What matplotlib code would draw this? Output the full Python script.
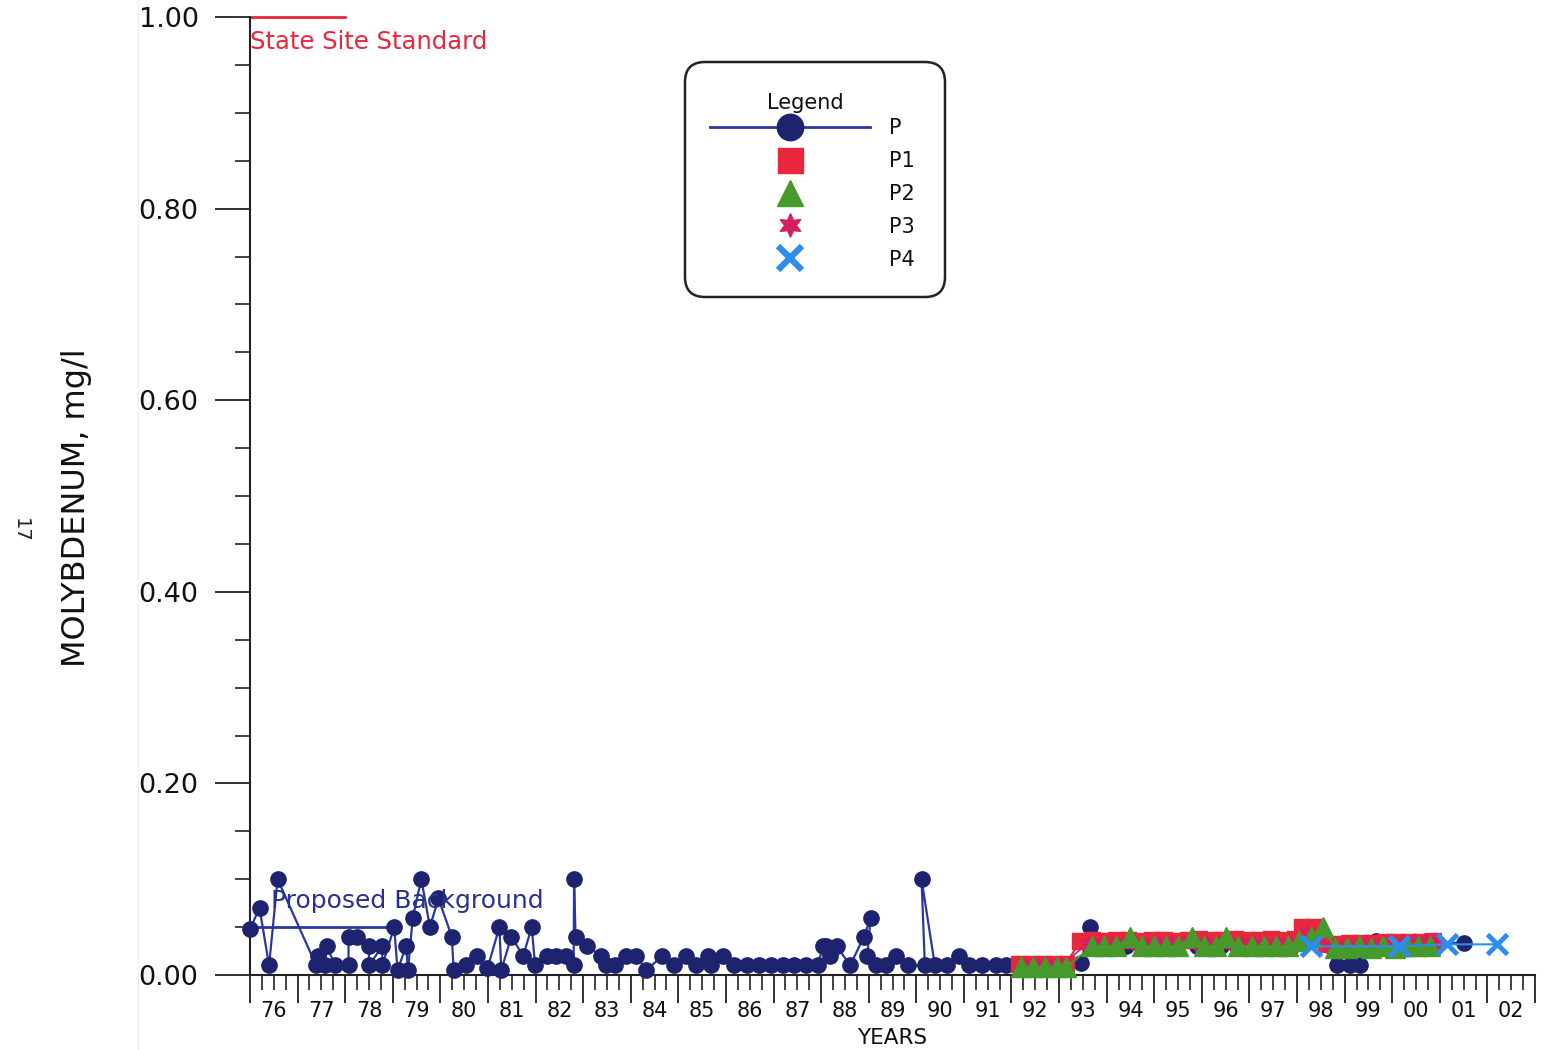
import matplotlib
matplotlib.use("Agg")
import matplotlib.pyplot as plt
from matplotlib.ticker import MultipleLocator, FormatStrFormatter
from matplotlib.lines import Line2D
from matplotlib.patches import FancyBboxPatch

plt.rcParams['font.family'] = ['DejaVu Sans']

# ---------------- data ----------------
p_year = [1976.0, 1976.2, 1976.4, 1976.58, 1977.39, 1977.43, 1977.57, 1977.61, 1977.79,
          1978.07, 1978.07, 1978.25, 1978.5, 1978.5, 1978.78, 1978.78, 1979.03, 1979.1,
          1979.28, 1979.32, 1979.42, 1979.6, 1979.78, 1979.96, 1980.24, 1980.28, 1980.53,
          1980.78, 1980.99, 1981.24, 1981.28, 1981.49, 1981.74, 1981.92, 1981.99, 1982.24,
          1982.42, 1982.63, 1982.80, 1982.81, 1982.84, 1983.09, 1983.38, 1983.48, 1983.66,
          1983.91, 1984.12, 1984.33, 1984.66, 1984.91, 1985.16, 1985.37, 1985.62, 1985.69,
          1985.94, 1986.16, 1986.44, 1986.69, 1986.94, 1987.19, 1987.43, 1987.68, 1987.93,
          1988.04, 1988.11, 1988.18, 1988.33, 1988.61, 1988.9, 1989.04, 1988.97, 1989.15,
          1989.36, 1989.58, 1989.82, 1990.18, 1990.11, 1990.39, 1990.64, 1990.89, 1991.11,
          1991.39, 1991.67, 1991.89, 1992.18, 1992.39, 1992.65, 1992.9, 1993.15, 1993.46,
          1993.64, 1993.9, 1994.4, 1994.9, 1995.4, 1995.9, 1996.4, 1996.9, 1997.4, 1997.9,
          1998.22, 1998.84, 1999.12, 1999.33, 1999.65, 2000.7, 2001.5]
p_val = [0.048, 0.07, 0.01, 0.10, 0.01, 0.02, 0.01, 0.03, 0.01,
         0.01, 0.04, 0.04, 0.03, 0.01, 0.03, 0.01, 0.05, 0.005,
         0.03, 0.005, 0.06, 0.10, 0.05, 0.08, 0.04, 0.005, 0.01,
         0.02, 0.007, 0.05, 0.005, 0.04, 0.02, 0.05, 0.01, 0.02,
         0.02, 0.02, 0.01, 0.10, 0.04, 0.03, 0.02, 0.01, 0.01,
         0.02, 0.02, 0.005, 0.02, 0.01, 0.02, 0.01, 0.02, 0.01,
         0.02, 0.01, 0.01, 0.01, 0.01, 0.01, 0.01, 0.01, 0.01,
         0.03, 0.03, 0.02, 0.03, 0.01, 0.04, 0.06, 0.02, 0.01,
         0.01, 0.02, 0.01, 0.01, 0.10, 0.01, 0.01, 0.02, 0.01,
         0.01, 0.01, 0.01, 0.01, 0.01, 0.01, 0.01, 0.01, 0.013,
         0.05, 0.03, 0.03, 0.03, 0.03, 0.03, 0.03, 0.03, 0.03, 0.03,
         0.05, 0.01, 0.01, 0.01, 0.035, 0.035, 0.033]

p1_year = [1992.15, 1992.4, 1992.65, 1992.9, 1993.15,
           1993.45, 1993.7, 1993.95, 1994.2, 1994.45, 1994.7, 1994.95, 1995.2, 1995.45,
           1995.7, 1995.95, 1996.2, 1996.45, 1996.7, 1996.95, 1997.2, 1997.45, 1997.7,
           1997.95, 1998.1, 1998.35, 1998.6, 1998.85, 1999.1, 1999.35, 1999.6, 1999.85,
           2000.1, 2000.35, 2000.6, 2000.85]
p1_val = [0.012, 0.012, 0.012, 0.012, 0.012,
          0.036, 0.037, 0.036, 0.037, 0.037, 0.036, 0.037, 0.037, 0.036,
          0.037, 0.038, 0.037, 0.037, 0.038, 0.037, 0.037, 0.038, 0.037,
          0.038, 0.05, 0.05, 0.032, 0.032, 0.033, 0.033, 0.033, 0.034,
          0.034, 0.034, 0.034, 0.035]

p2_year = [1992.2, 1992.45, 1992.7, 1992.95, 1993.15,
           1993.7, 1993.95, 1994.2, 1994.5, 1994.75, 1995.0, 1995.25, 1995.5, 1995.8,
           1996.05, 1996.3, 1996.5, 1996.75, 1997.05, 1997.3, 1997.55, 1997.8, 1998.05,
           1998.3, 1998.55, 1998.8, 1999.05, 1999.3, 1999.55, 1999.8, 2000.05, 2000.3,
           2000.55, 2000.8]
p2_val = [0.008, 0.008, 0.008, 0.008, 0.008,
          0.03, 0.03, 0.03, 0.04, 0.03, 0.03, 0.03, 0.03, 0.04,
          0.03, 0.03, 0.04, 0.03, 0.03, 0.03, 0.03, 0.03, 0.035,
          0.04, 0.05, 0.028, 0.028, 0.03, 0.028, 0.03, 0.028, 0.03,
          0.03, 0.03]

p3_year = [1992.3, 1992.55, 1992.8, 1993.05,
           1993.6, 1993.85, 1994.1, 1994.35, 1994.6, 1994.85, 1995.1, 1995.35, 1995.6,
           1995.85, 1996.1, 1996.35, 1996.6, 1996.85, 1997.1, 1997.35, 1997.6, 1997.85,
           1998.2, 1998.45, 1998.7, 1998.95, 1999.2, 1999.45, 1999.7, 1999.95, 2000.2,
           2000.45, 2000.7, 2000.95]
p3_val = [0.01, 0.01, 0.01, 0.01,
          0.033, 0.033, 0.032, 0.033, 0.033, 0.032, 0.033, 0.033, 0.033,
          0.033, 0.033, 0.032, 0.033, 0.033, 0.032, 0.033, 0.033, 0.033,
          0.045, 0.04, 0.03, 0.03, 0.03, 0.032, 0.032, 0.033, 0.034,
          0.035, 0.036, 0.036]

p4_year = [1998.3, 2000.15, 2001.15, 2002.2]
p4_val = [0.03, 0.03, 0.032, 0.032]

series_names = ['P', 'P1', 'P2', 'P3', 'P4']

standard_value = 1.00
standard_span = [1976.0, 1978.0]
background_value = 0.05
background_span = [1976.0, 1979.1]

year_ticks = list(range(1976, 2004))
year_labels = ["76", "77", "78", "79", "80", "81", "82", "83", "84", "85", "86", "87", "88",
               "89", "90", "91", "92", "93", "94", "95", "96", "97", "98", "99", "00", "01", "02"]

# ---------------- style ----------------
NAVY = '#1e2370'
LINE_BLUE = '#2b36a3'
RED = '#e8263c'
GREEN = '#469a2c'
CRIMSON = '#d81e62'
XBLUE = '#2b8df0'

W, H = 1546, 1050
fig = plt.figure(figsize=(W / 100, H / 100), dpi=100)
fig.patch.set_facecolor('white')
ax = fig.add_axes([250 / W, 75 / H, 1285 / W, 958 / H])
ax.patch.set_alpha(0)

ax.set_xlim(1976, 2003)
ax.set_ylim(0, 1.0)
for s in ['top', 'right']:
    ax.spines[s].set_visible(False)
for s in ['left', 'bottom']:
    ax.spines[s].set_color('#222222')
    ax.spines[s].set_linewidth(1.5)

ax.xaxis.set_major_locator(MultipleLocator(1))
ax.xaxis.set_minor_locator(MultipleLocator(0.25))
ax.tick_params(axis='x', which='major', direction='out', length=20, width=1.3,
               color='#222222', labelbottom=False)
ax.tick_params(axis='x', which='minor', direction='out', length=11, width=1.2, color='#222222')
ax.yaxis.set_major_locator(MultipleLocator(0.2))
ax.yaxis.set_minor_locator(MultipleLocator(0.05))
ax.yaxis.set_major_formatter(FormatStrFormatter('%.2f'))
ax.tick_params(axis='y', which='major', direction='out', length=25, width=1.3,
               color='#222222', labelsize=19.5, pad=12, labelcolor='#111111')
ax.tick_params(axis='y', which='minor', direction='out', length=11, width=1.2, color='#222222')

for yr, lab in zip(year_ticks[:-1], year_labels):
    ax.annotate(lab, xy=(yr + 0.5, 0), xycoords=('data', 'axes fraction'),
                xytext=(0, -26), textcoords='offset points', ha='center', va='center',
                fontsize=15, color='#111111')
ax.annotate('YEARS', xy=(0.5, 0), xycoords='axes fraction', xytext=(0, -45),
            textcoords='offset points', ha='center', va='center', fontsize=15.5, color='#111111')

ax.set_ylabel('MOLYBDENUM, mg/l', fontsize=23, color='#111111')
ax.yaxis.set_label_coords((92 - 250) / 1285, (975 - 508) / 958)

# reference lines
ax.plot(standard_span, [standard_value, standard_value], color=RED, lw=2, clip_on=False)
ax.text(1976.0, 0.974, 'State Site Standard', color=RED, fontsize=17.5, ha='left', va='center')
ax.plot(background_span, [background_value, background_value], color=LINE_BLUE, lw=2, zorder=3)
ax.text(1976.45, 0.077, 'Proposed Background', color='#27318f', fontsize=18,
        ha='left', va='center', zorder=6)

# series
ax.plot(p_year, p_val, color=LINE_BLUE, lw=1.6, marker='o', ms=11, mfc=NAVY, mec=NAVY,
        clip_on=False, zorder=4)
ax.plot(p1_year, p1_val, color=RED, lw=1.5, marker='s', ms=11, mfc=RED, mec=RED,
        clip_on=False, zorder=5)
ax.plot(p2_year, p2_val, color=GREEN, lw=1.5, marker='^', ms=15, mfc=GREEN, mec=GREEN,
        clip_on=False, zorder=6)
ax.plot(p3_year, p3_val, color=CRIMSON, lw=1.2, marker=(6, 1, 0), ms=11, mfc=CRIMSON,
        mec=CRIMSON, clip_on=False, zorder=5.5)
ax.plot(p4_year, p4_val, color=XBLUE, lw=1.5, marker='x', ms=14, mew=3.5, mec=XBLUE,
        clip_on=False, zorder=7)

# legend (frame and title drawn separately for exact placement)
handles = [
    Line2D([], [], color=LINE_BLUE, lw=2, marker='o', ms=19, mfc=NAVY, mec=NAVY),
    Line2D([], [], ls='none', marker='s', ms=18, mfc=RED, mec=RED),
    Line2D([], [], ls='none', marker='^', ms=19, mfc=GREEN, mec=GREEN),
    Line2D([], [], ls='none', marker=(6, 1, 0), ms=17, mfc=CRIMSON, mec=CRIMSON),
    Line2D([], [], ls='none', marker='x', ms=17, mew=4.5, mec=XBLUE),
]
leg = fig.legend(handles, series_names, loc='upper left',
                 bbox_to_anchor=(710 / W, 1 - 118 / H), bbox_transform=fig.transFigure,
                 fontsize=15, handlelength=7.7, handletextpad=0.9, labelspacing=0.62,
                 borderpad=0, frameon=False, borderaxespad=0)
for t in leg.get_texts():
    t.set_color('#111111')

box = FancyBboxPatch((685 / 100, (H - 297) / 100), 2.6, 2.35,
                     boxstyle='round,pad=0,rounding_size=0.2',
                     transform=fig.dpi_scale_trans, facecolor='none',
                     edgecolor='#222222', linewidth=1.8, zorder=10)
fig.add_artist(box)
fig.text(805 / W, 1 - 103 / H, 'Legend', fontsize=15, color='#111111',
         ha='center', va='center')

# margin text
fig.text(20 / W, 1 - 530 / H, '17', rotation=-90, fontsize=14, color='#222222',
         ha='center', va='center')
fig.add_artist(Line2D([138 / W, 138 / W], [0, 1], transform=fig.transFigure,
                      color='#eeeeee', lw=1))

fig.savefig('out.png', dpi=100, facecolor='white')
